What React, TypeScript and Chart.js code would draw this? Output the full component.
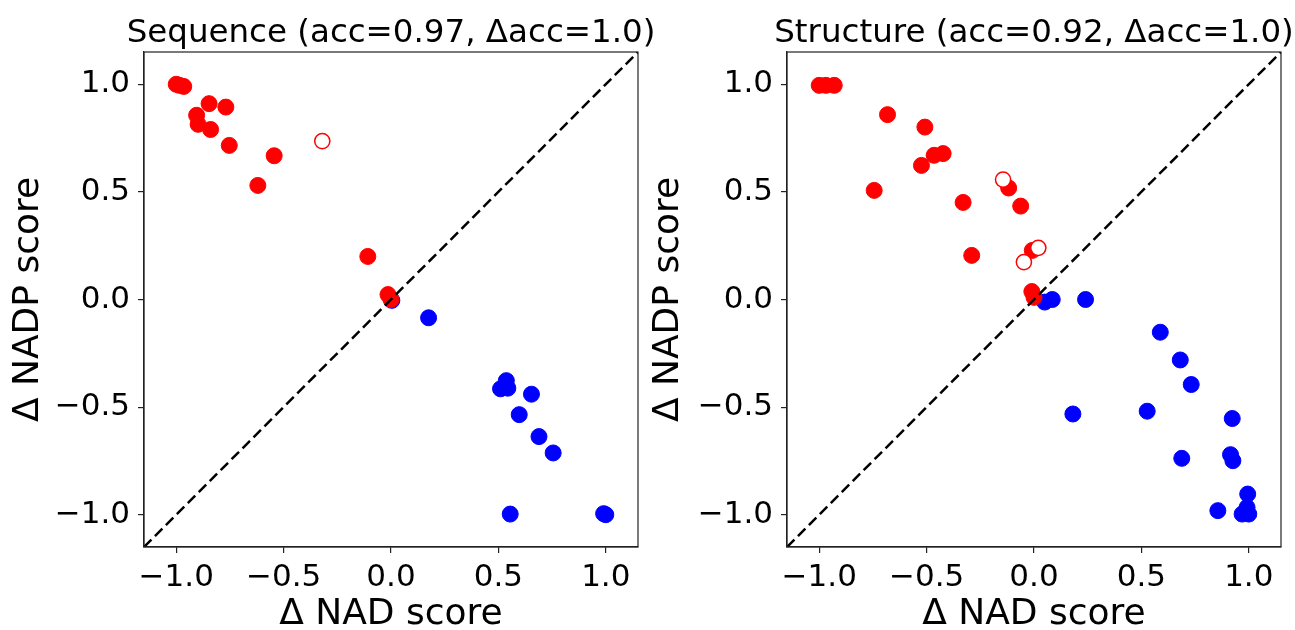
import React, { useEffect, useRef } from "react";
import { Chart, registerables } from "chart.js";

Chart.register(...registerables);

// ---------- data ----------
const tickValues = [-1, -0.5, 0, 0.5, 1];
const axisMin = -1.15;
const axisMax = 1.15;
const diagonalX = [-1.15, 1.15];
const diagonalY = [-1.15, 1.15];

const xAxisLabel = "\u0394 NAD score";
const yAxisLabel = "\u0394 NADP score";

// Sequence panel
const seqTitle = "Sequence (acc=0.97, \u0394acc=1.0)";
const seqRedX = [-1.0, -0.985, -0.965, -0.847, -0.769, -0.905, -0.898, -0.84, -0.753, -0.544, -0.62, -0.108, -0.014, 0.0];
const seqRedY = [1.0, 0.995, 0.99, 0.91, 0.894, 0.856, 0.814, 0.79, 0.716, 0.668, 0.53, 0.2, 0.023, 0.0];
const seqOpenX = [-0.32];
const seqOpenY = [0.736];
const seqBlueX = [0.004, 0.175, 0.537, 0.51, 0.544, 0.654, 0.597, 0.689, 0.755, 0.555, 0.99, 1.0];
const seqBlueY = [-0.004, -0.085, -0.377, -0.415, -0.412, -0.44, -0.535, -0.637, -0.713, -0.997, -0.995, -1.0];

// Structure panel
const strTitle = "Structure (acc=0.92, \u0394acc=1.0)";
const strRedX = [-1.0, -0.969, -0.93, -0.682, -0.508, -0.465, -0.423, -0.524, -0.744, -0.118, -0.33, -0.062, -0.29, -0.008, -0.01, 0.0];
const strRedY = [0.995, 0.995, 0.995, 0.859, 0.801, 0.67, 0.678, 0.623, 0.507, 0.518, 0.451, 0.434, 0.205, 0.228, 0.037, 0.01];
const strOpenX = [-0.144, 0.02, -0.047];
const strOpenY = [0.557, 0.24, 0.174];
const strBlueX = [0.05, 0.085, 0.24, 0.588, 0.681, 0.732, 0.181, 0.527, 0.923, 0.688, 0.915, 0.926, 0.995, 0.992, 0.856, 0.969, 1.0];
const strBlueY = [-0.012, 0.0, 0.0, -0.152, -0.281, -0.395, -0.532, -0.519, -0.553, -0.738, -0.721, -0.749, -0.904, -0.966, -0.981, -0.997, -0.997];

// ---------- helpers ----------
const FONT = "'DejaVu Sans', 'Liberation Sans', sans-serif";
const RED = "#ff0000";
const BLUE = "#0000ff";
const AXIS_COLOR = "#222222";

const toPoints = (xs: number[], ys: number[]) => xs.map((x, i) => ({ x, y: ys[i] }));
const fmt = (v: number) => v.toFixed(1).replace("-", "\u2212");

const frameTitlePlugin = {
  id: "frameTitle",
  afterDraw(chart: any, _args: any, opts: any) {
    const { ctx, chartArea: a } = chart;
    ctx.save();
    ctx.strokeStyle = AXIS_COLOR;
    ctx.lineWidth = 1.2;
    ctx.strokeRect(a.left, a.top, a.right - a.left, a.bottom - a.top);
    ctx.fillStyle = "#000";
    ctx.font = `32.5px ${FONT}`;
    ctx.textAlign = "center";
    ctx.textBaseline = "alphabetic";
    ctx.fillText(opts.text, (a.left + a.right) / 2, 41.5);
    ctx.restore();
  },
};

type PanelProps = {
  title: string;
  redX: number[];
  redY: number[];
  openX: number[];
  openY: number[];
  blueX: number[];
  blueY: number[];
  left: number;
  width: number;
  yAxisWidth: number;
  padRight: number;
};

function Panel(p: PanelProps) {
  const ref = useRef<HTMLCanvasElement | null>(null);

  useEffect(() => {
    if (!ref.current) return;
    const axisCommon = {
      type: "linear" as const,
      min: axisMin,
      max: axisMax,
      afterBuildTicks: (scale: any) => {
        scale.ticks = tickValues.map((v) => ({ value: v }));
      },
      grid: {
        display: true,
        drawOnChartArea: false,
        drawTicks: true,
        tickLength: 6,
        color: AXIS_COLOR,
        lineWidth: 1.2,
      },
      border: { display: true, color: AXIS_COLOR, width: 1.2 },
    };
    const chart = new Chart(ref.current, {
      type: "scatter",
      data: {
        datasets: [
          {
            label: "diagonal",
            data: toPoints(diagonalX, diagonalY),
            showLine: true,
            borderColor: "#000",
            borderWidth: 2.5,
            borderDash: [10.5, 5],
            pointRadius: 0,
            fill: false,
          } as any,
          {
            label: "red open",
            data: toPoints(p.openX, p.openY),
            backgroundColor: "#ffffff",
            borderColor: RED,
            borderWidth: 1.5,
            pointRadius: 7.6,
          },
          {
            label: "red",
            data: toPoints(p.redX, p.redY),
            backgroundColor: RED,
            borderColor: RED,
            borderWidth: 1,
            pointRadius: 8,
          },
          {
            label: "blue",
            data: toPoints(p.blueX, p.blueY),
            backgroundColor: BLUE,
            borderColor: BLUE,
            borderWidth: 1,
            pointRadius: 8,
          },
        ],
      },
      options: {
        responsive: false,
        animation: false,
        devicePixelRatio: 1,
        layout: { padding: { top: 52, right: p.padRight, bottom: 0, left: 0 } },
        plugins: {
          legend: { display: false },
          tooltip: { enabled: false },
          title: { display: false },
          frameTitle: { text: p.title },
        } as any,
        scales: {
          x: {
            ...axisCommon,
            position: "bottom",
            afterFit: (scale: any) => {
              scale.height = 83;
            },
            ticks: {
              padding: 6,
              color: "#000",
              font: { family: FONT, size: 31 },
              maxRotation: 0,
              autoSkip: false,
              callback: (v: any) => fmt(Number(v)),
            },
            title: {
              display: true,
              text: xAxisLabel,
              color: "#000",
              font: { family: FONT, size: 36, lineHeight: 0.88 },
              padding: { top: 0, bottom: 0 },
            },
          },
          y: {
            ...axisCommon,
            position: "left",
            afterFit: (scale: any) => {
              scale.width = p.yAxisWidth;
            },
            ticks: {
              padding: 8,
              color: "#000",
              font: { family: FONT, size: 31 },
              autoSkip: false,
              callback: (v: any) => fmt(Number(v)),
            },
            title: {
              display: true,
              text: yAxisLabel,
              color: "#000",
              font: { family: FONT, size: 36, lineHeight: 1.2 },
              padding: { top: 7, bottom: 0 },
            },
          },
        },
      } as any,
      plugins: [frameTitlePlugin as any],
    });
    return () => chart.destroy();
  }, []);

  return (
    <canvas
      ref={ref}
      width={p.width}
      height={630}
      style={{ position: "absolute", left: p.left, top: 0, width: p.width, height: 630 }}
    />
  );
}

export default function App() {
  return (
    <div
      style={{
        position: "absolute",
        left: 0,
        top: 0,
        width: 1295,
        height: 630,
        background: "#fff",
        overflow: "hidden",
      }}
    >
      <Panel
        title={seqTitle}
        redX={seqRedX}
        redY={seqRedY}
        openX={seqOpenX}
        openY={seqOpenY}
        blueX={seqBlueX}
        blueY={seqBlueY}
        left={0}
        width={700}
        yAxisWidth={144}
        padRight={62}
      />
      <Panel
        title={strTitle}
        redX={strRedX}
        redY={strRedY}
        openX={strOpenX}
        openY={strOpenY}
        blueX={strBlueX}
        blueY={strBlueY}
        left={640}
        width={655}
        yAxisWidth={147}
        padRight={14}
      />
    </div>
  );
}
